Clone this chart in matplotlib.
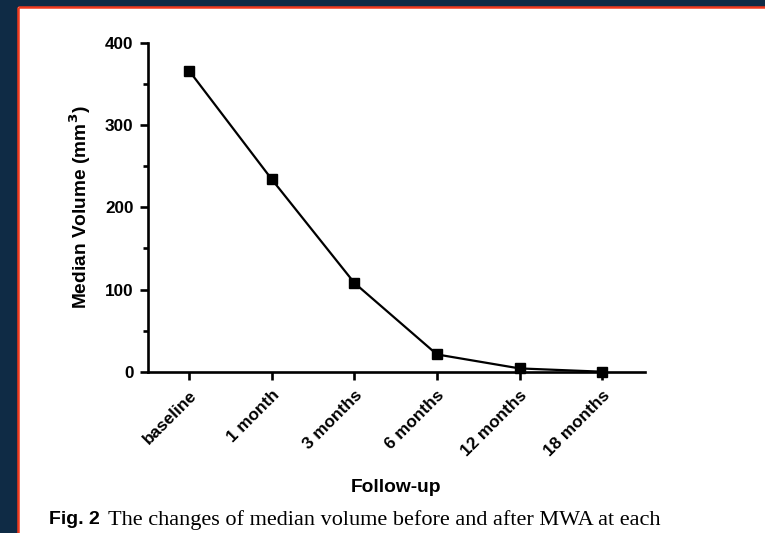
import matplotlib
matplotlib.use("Agg")
import matplotlib.pyplot as plt
from matplotlib.patches import Rectangle
from matplotlib.ticker import MultipleLocator
from matplotlib.transforms import ScaledTranslation

categories = ["baseline", "1 month", "3 months", "6 months", "12 months", "18 months"]
median_volume = [366, 234, 108, 21, 4, 0]
y_ticks = [0, 100, 200, 300, 400]

W, H = 765, 533
fig = plt.figure(figsize=(W / 100, H / 100), dpi=100)
fig.patch.set_facecolor("#0f2b45")

# white panel with red border (left + top)
bg = fig.add_axes([0, 0, 1, 1], zorder=-10)
bg.set_xlim(0, W)
bg.set_ylim(H, 0)
bg.axis("off")
bg.add_patch(Rectangle((18, 7), W, H, facecolor="white", edgecolor="none"))
bg.plot([18, 18], [H, 7], color="#f03a1e", lw=1.8, solid_capstyle="butt")
bg.plot([18, W], [7, 7], color="#f03a1e", lw=1.8, solid_capstyle="butt")

ax = fig.add_axes([148 / W, 1 - 371.7 / H, (645 - 148) / W, (371.7 - 43) / H])
ax.set_facecolor("none")
x = list(range(len(categories)))
ax.plot(x, median_volume, color="black", lw=1.6, marker="s", markersize=7,
        clip_on=False, zorder=5)
ax.set_xlim(-0.5, 5.52)
ax.set_ylim(0, 400)
ax.set_yticks(y_ticks)
ax.yaxis.set_minor_locator(MultipleLocator(50))
ax.set_xticks(x)
ax.set_xticklabels(categories, rotation=45, ha="right", va="top",
                   rotation_mode="anchor", fontsize=12.3, fontweight="bold",
                   family="Liberation Sans")
shift = ScaledTranslation(-4 / 100, 0, fig.dpi_scale_trans)
for lbl in ax.get_xticklabels():
    lbl.set_transform(lbl.get_transform() + shift)
for lbl in ax.get_yticklabels():
    lbl.set_fontsize(12.3)
    lbl.set_fontweight("bold")
    lbl.set_family("Liberation Sans")
for s in ["top", "right"]:
    ax.spines[s].set_visible(False)
for s in ["left", "bottom"]:
    ax.spines[s].set_linewidth(1.9)
ax.tick_params(axis="both", which="major", length=5.5, width=1.9, color="black")
ax.tick_params(axis="x", pad=6)
ax.tick_params(axis="y", pad=5)
ax.tick_params(axis="y", which="minor", length=3.5, width=1.9)
ax.set_ylabel("Median Volume (mm$^\\mathbf{3}$)", fontsize=13.8, fontweight="bold",
              family="Liberation Sans")
ax.set_xlabel("Follow-up", fontsize=13.8, fontweight="bold", family="Liberation Sans")
ax.xaxis.set_label_coords(0.5, -(479 - 371.7) / (371.7 - 43))
ax.yaxis.set_label_coords(-(148 - 93) / (645 - 148), 0.5)

fig.text(49 / W, 1 - 520 / H, "Fig. 2", fontsize=14, fontweight="bold",
         family="Liberation Sans", va="center", ha="left")
fig.text(108 / W, 1 - 520 / H, "The changes of median volume before and after MWA at each",
         fontsize=16, family="Liberation Serif", va="center", ha="left")

fig.savefig("out.png", dpi=100, facecolor=fig.get_facecolor())
